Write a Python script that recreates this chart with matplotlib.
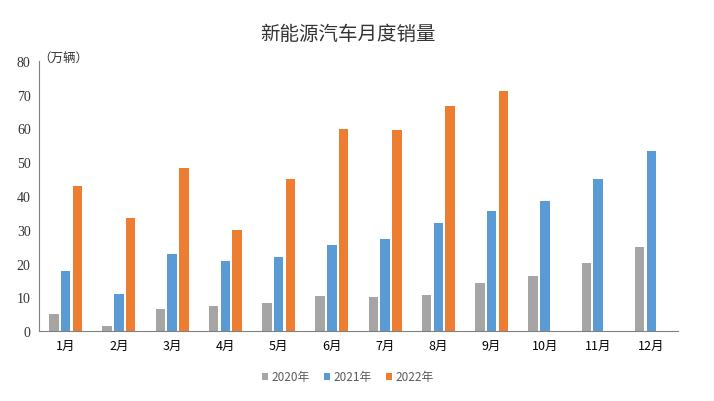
import numpy as np
import matplotlib
matplotlib.use('Agg')
import matplotlib.pyplot as plt

plt.rcParams['font.family'] = ['Noto Sans CJK SC', 'DejaVu Sans']

# 月份与各年销量（万辆）
months = ['1月', '2月', '3月', '4月', '5月', '6月', '7月', '8月', '9月', '10月', '11月', '12月']
sales_2020 = [5.1, 1.6, 6.6, 7.4, 8.2, 10.5, 10.0, 10.8, 14.1, 16.3, 20.1, 24.9]
sales_2021 = [17.9, 11.1, 22.7, 20.8, 21.8, 25.6, 27.3, 32.1, 35.7, 38.4, 45.1, 53.2]
sales_2022 = [43.1, 33.5, 48.4, 29.9, 44.9, 59.8, 59.5, 66.7, 71.0]
yticks = [0, 10, 20, 30, 40, 50, 60, 70, 80]

fig = plt.figure(figsize=(7.14, 4.02), dpi=100)
ax = fig.add_axes([39 / 714, 1 - 332 / 402, 639 / 714, 270 / 402])

x = np.arange(len(months))
w = 0.18
off = 0.22
ax.bar(x - off, sales_2020, w, color='#A5A5A5', label='2020年')
ax.bar(x, sales_2021, w, color='#5B9BD5', label='2021年')
ax.bar(x[:len(sales_2022)] + off, sales_2022, w, color='#ED7D31', label='2022年')

ax.set_xlim(-0.5, 11.5)
ax.set_ylim(0, 80)
ax.set_xticks(x)
ax.set_xticklabels(months, fontsize=9)
ax.set_yticks(yticks)
ax.set_yticklabels([str(v) for v in yticks], fontsize=10, family='Liberation Serif', color='#333333')
ax.tick_params(length=0, pad=6)
for s in ['top', 'right']:
    ax.spines[s].set_visible(False)
ax.spines['left'].set_color('#808080')
ax.spines['bottom'].set_color('#808080')

fig.text(348 / 714, 1 - 35 / 402, '新能源汽车月度销量', ha='center', va='center', fontsize=14, color='#333333')
fig.text(38 / 714, 1 - 58 / 402, '（万辆）', ha='left', va='center', fontsize=9, color='#333333')

ax.legend(loc='center', bbox_to_anchor=(348 / 714, 1 - 378 / 402), bbox_transform=fig.transFigure,
          ncol=3, frameon=False, fontsize=8.5, handlelength=0.5, handleheight=0.5,
          handletextpad=0.3, columnspacing=1.2, labelcolor='#595959')

fig.savefig('out.png', dpi=100)
